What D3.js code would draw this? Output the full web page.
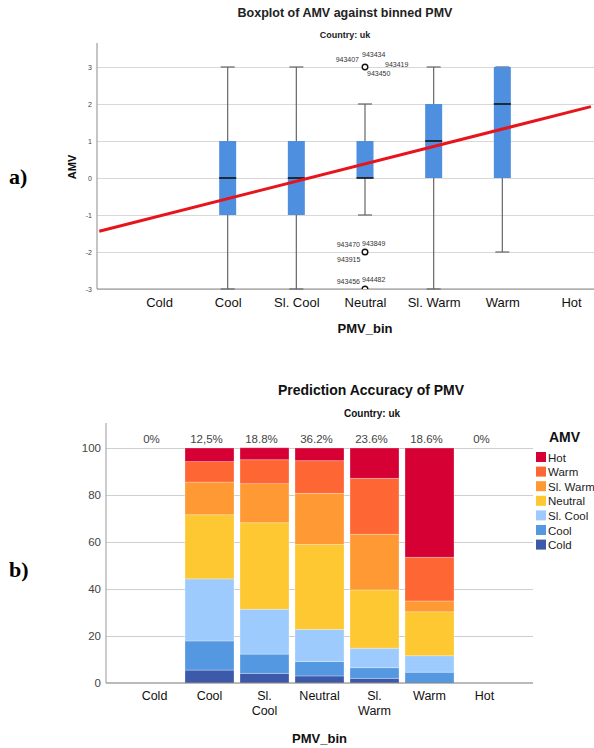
<!DOCTYPE html>
<html>
<head>
<meta charset="utf-8">
<script src="https://cdn.jsdelivr.net/npm/d3@7"></script>
<style>
  body { margin: 0; background: #fff; }
  svg { display: block; font-family: "Liberation Sans", Arial, sans-serif; }
  .domain { display: none; }
</style>
</head>
<body>
<div id="chart"></div>
<script>
// --- data -------------------------------------------------------------
const pmvBins = ["Cold", "Cool", "Sl. Cool", "Neutral", "Sl. Warm", "Warm", "Hot"];
const amvTicks = [-3, -2, -1, 0, 1, 2, 3];

// boxplot stats per PMV bin (null = no data)
const boxLow = [null, -3, -3, -1, -3, -2, null];
const boxQ1 = [null, -1, -1, 0, 0, 0, null];
const boxMedian = [null, 0, 0, 0, 1, 2, null];
const boxQ3 = [null, 1, 1, 1, 2, 3, null];
const boxHigh = [null, 3, 3, 2, 3, 3, null];

// outliers (Neutral bin) with case labels
const outlierBin = ["Neutral", "Neutral", "Neutral"];
const outlierValue = [3, -2, -3];
const outlierLabels = [
    ["943407", "943434", "943419", "943450"],
    ["943470", "943849", "943915"],
    ["943456", "944482"]
];

// fitted line AMV vs PMV (PMV -3..3 at bin centres)
const fitPmv = [-3.87, 3.29];
const fitAmv = [-1.44, 1.93];

// stacked percentages per AMV vote for each PMV bin
const amvLevels = ["Cold", "Cool", "Sl. Cool", "Neutral", "Sl. Warm", "Warm", "Hot"];
const pctCold = [0, 5.5, 4.1, 3.0, 2.0, 0, 0];
const pctCool = [0, 12.4, 8.2, 6.1, 4.5, 4.6, 0];
const pctSlCool = [0, 26.4, 19.1, 13.7, 8.3, 7.0, 0];
const pctNeutral = [0, 27.3, 36.8, 36.2, 24.8, 18.7, 0];
const pctSlWarm = [0, 13.9, 16.6, 21.7, 23.7, 4.6, 0];
const pctWarm = [0, 8.7, 10.2, 13.9, 23.8, 18.6, 0];
const pctHot = [0, 5.8, 5.1, 5.4, 12.9, 46.5, 0];
const accuracyLabels = ["0%", "12,5%", "18.8%", "36.2%", "23.6%", "18.6%", "0%"];
const pctTicks = [0, 20, 40, 60, 80, 100];

const amvColors = ["#3d59a9", "#5598e2", "#9dcbfd", "#fec832", "#fe9933", "#fe6633", "#d60035"];

// --- svg --------------------------------------------------------------
const W = 594, H = 748;
const svg = d3.select("#chart").append("svg")
    .attr("width", W)
    .attr("height", H);

// ===================== a) boxplot ======================================
const topLeft = 97, topRight = 594, topTop = 43, topBottom = 289;

const xTop = d3.scalePoint().domain(pmvBins).range([159, 571]);
const yTop = d3.scaleLinear().domain([-3, 3]).range([289, 67]);
const xPmv = d3.scaleLinear().domain([-3, 3]).range([159, 571]);

svg.append("text")
    .attr("x", 345).attr("y", 17)
    .attr("text-anchor", "middle")
    .attr("font-size", 12.5).attr("font-weight", "bold").attr("fill", "#222")
    .text("Boxplot of AMV against binned PMV");

svg.append("text")
    .attr("x", 345).attr("y", 38)
    .attr("text-anchor", "middle")
    .attr("font-size", 9).attr("font-weight", "bold").attr("fill", "#222")
    .text("Country: uk");

// gridlines
svg.append("g")
    .attr("transform", `translate(${topLeft},0)`)
    .call(d3.axisLeft(yTop).tickValues(amvTicks).tickSize(-(topRight - topLeft)).tickFormat(""))
    .call(g => g.selectAll(".tick line").attr("stroke", "#d8d8d8"));

// y tick labels
svg.append("g")
    .attr("transform", `translate(${topLeft},0)`)
    .call(d3.axisLeft(yTop).tickValues(amvTicks).tickSize(0).tickPadding(5).tickFormat(d => String(d)))
    .call(g => g.selectAll("text").attr("font-size", 7).attr("fill", "#444")
        .attr("font-family", "Liberation Sans, Arial, sans-serif"));

// axis lines
svg.append("line")
    .attr("x1", topLeft).attr("x2", topLeft).attr("y1", topTop).attr("y2", topBottom)
    .attr("stroke", "#8a8a8a");
svg.append("line")
    .attr("x1", topLeft).attr("x2", topRight).attr("y1", topBottom).attr("y2", topBottom)
    .attr("stroke", "#8a8a8a");

// x labels
svg.append("g")
    .attr("transform", `translate(0,${topBottom})`)
    .call(d3.axisBottom(xTop).tickSize(0).tickPadding(9))
    .call(g => g.selectAll("text").attr("font-size", 13).attr("fill", "#111")
        .attr("font-family", "Liberation Sans, Arial, sans-serif"));

svg.append("text")
    .attr("x", xTop("Neutral")).attr("y", 333)
    .attr("text-anchor", "middle")
    .attr("font-size", 13).attr("font-weight", "bold").attr("fill", "#111")
    .text("PMV_bin");

svg.append("text")
    .attr("transform", `translate(76,${yTop(0) - 11}) rotate(-90)`)
    .attr("text-anchor", "middle")
    .attr("font-size", 11).attr("font-weight", "bold").attr("fill", "#111")
    .text("AMV");

svg.append("text")
    .attr("x", 9).attr("y", 184)
    .attr("font-family", "Liberation Serif, Times New Roman, serif")
    .attr("font-size", 22).attr("font-weight", "bold")
    .text("a)");

// boxes
const boxData = pmvBins.map((b, i) => ({
    bin: b, low: boxLow[i], q1: boxQ1[i], med: boxMedian[i], q3: boxQ3[i], high: boxHigh[i]
})).filter(d => d.low !== null);

const boxW = 17, capW = 14;
const boxes = svg.append("g").selectAll("g")
    .data(boxData)
    .join("g")
    .attr("transform", d => `translate(${xTop(d.bin)},0)`);

boxes.append("line")
    .attr("y1", d => yTop(d.low)).attr("y2", d => yTop(d.high))
    .attr("stroke", "#666").attr("stroke-width", 1.2);
boxes.append("line")
    .attr("x1", -capW / 2).attr("x2", capW / 2)
    .attr("y1", d => yTop(d.high)).attr("y2", d => yTop(d.high))
    .attr("stroke", "#666").attr("stroke-width", 1.2);
boxes.append("line")
    .attr("x1", -capW / 2).attr("x2", capW / 2)
    .attr("y1", d => yTop(d.low)).attr("y2", d => yTop(d.low))
    .attr("stroke", "#666").attr("stroke-width", 1.2);
boxes.append("rect")
    .attr("x", -boxW / 2).attr("width", boxW)
    .attr("y", d => yTop(d.q3))
    .attr("height", d => yTop(d.q1) - yTop(d.q3))
    .attr("fill", "#4f8fe0");
boxes.append("line")
    .attr("x1", -boxW / 2).attr("x2", boxW / 2)
    .attr("y1", d => yTop(d.med)).attr("y2", d => yTop(d.med))
    .attr("stroke", "#111").attr("stroke-width", 1.6);

// outliers
svg.append("clipPath").attr("id", "plotClip")
    .append("rect").attr("x", topLeft).attr("y", 0)
    .attr("width", topRight - topLeft).attr("height", topBottom);

const outliers = outlierBin.map((b, i) => ({ bin: b, v: outlierValue[i], labels: outlierLabels[i] }));
svg.append("g").attr("clip-path", "url(#plotClip)")
    .selectAll("circle")
    .data(outliers)
    .join("circle")
    .attr("cx", d => xTop(d.bin)).attr("cy", d => yTop(d.v))
    .attr("r", 2.8)
    .attr("fill", "#fff").attr("stroke", "#111").attr("stroke-width", 1.4);

// label offsets around each outlier point [dx, dy, anchor]
const labelOffsets = [
    [[-6, -5, "end"], [-3, -10, "start"], [20, 0, "start"], [2, 9, "start"]],
    [[-5, -5, "end"], [-3, -6, "start"], [-28, 10, "start"]],
    [[-5, -5, "end"], [-3, -7, "start"]]
];
outliers.forEach((o, i) => {
    svg.append("g").selectAll("text")
        .data(o.labels)
        .join("text")
        .attr("x", (d, j) => xTop(o.bin) + labelOffsets[i][j][0])
        .attr("y", (d, j) => yTop(o.v) + labelOffsets[i][j][1])
        .attr("text-anchor", (d, j) => labelOffsets[i][j][2])
        .attr("font-size", 7).attr("fill", "#333")
        .text(d => d);
});

// fit line
svg.append("line")
    .attr("x1", xPmv(fitPmv[0])).attr("y1", yTop(fitAmv[0]))
    .attr("x2", xPmv(fitPmv[1])).attr("y2", yTop(fitAmv[1]))
    .attr("stroke", "#e8141c").attr("stroke-width", 3);

// ===================== b) stacked bars =================================
const botLeft = 106, botRight = 533, botTop = 423, botBottom = 683;

const xBot = d3.scaleBand().domain(pmvBins).range([botLeft, botRight])
    .paddingInner(0.109).paddingOuter(0.436);
const yBot = d3.scaleLinear().domain([0, 100]).range([botBottom, 448]);

svg.append("text")
    .attr("x", 371).attr("y", 395)
    .attr("text-anchor", "middle")
    .attr("font-size", 14).attr("font-weight", "bold").attr("fill", "#111")
    .text("Prediction Accuracy of PMV");

svg.append("text")
    .attr("x", 372).attr("y", 417)
    .attr("text-anchor", "middle")
    .attr("font-size", 10).attr("font-weight", "bold").attr("fill", "#111")
    .text("Country: uk");

svg.append("text")
    .attr("x", 9).attr("y", 577)
    .attr("font-family", "Liberation Serif, Times New Roman, serif")
    .attr("font-size", 22).attr("font-weight", "bold")
    .text("b)");

// gridlines
svg.append("g")
    .attr("transform", `translate(${botLeft},0)`)
    .call(d3.axisLeft(yBot).tickValues(pctTicks.slice(1)).tickSize(-(botRight - botLeft)).tickFormat(""))
    .call(g => g.selectAll(".tick line").attr("stroke", "#cfcfcf"));

svg.append("g")
    .attr("transform", `translate(${botLeft},0)`)
    .call(d3.axisLeft(yBot).tickValues(pctTicks).tickSize(0).tickPadding(5))
    .call(g => g.selectAll("text").attr("font-size", 11.5).attr("fill", "#444")
        .attr("font-family", "Liberation Sans, Arial, sans-serif"));

svg.append("line")
    .attr("x1", botLeft).attr("x2", botLeft).attr("y1", botTop).attr("y2", botBottom)
    .attr("stroke", "#999");

// stacked bars
const pctSeries = [pctCold, pctCool, pctSlCool, pctNeutral, pctSlWarm, pctWarm, pctHot];
const table = pmvBins.map((b, i) => {
    const row = { bin: b };
    amvLevels.forEach((a, k) => { row[a] = pctSeries[k][i]; });
    return row;
});
const stacked = d3.stack().keys(amvLevels)(table);

svg.append("g").selectAll("g")
    .data(stacked)
    .join("g")
    .attr("fill", (d, k) => amvColors[k])
    .selectAll("rect")
    .data(d => d.filter(p => p[1] - p[0] > 0))
    .join("rect")
    .attr("x", p => xBot(p.data.bin))
    .attr("width", xBot.bandwidth())
    .attr("y", p => yBot(p[1]))
    .attr("height", p => yBot(p[0]) - yBot(p[1]))
    .attr("stroke", "rgba(255,255,255,0.35)").attr("stroke-width", 0.8);

svg.append("line")
    .attr("x1", botLeft).attr("x2", botRight).attr("y1", botBottom).attr("y2", botBottom)
    .attr("stroke", "#777");

// accuracy labels
svg.append("g").selectAll("text")
    .data(accuracyLabels)
    .join("text")
    .attr("x", (d, i) => xBot(pmvBins[i]) + xBot.bandwidth() / 2 - 3)
    .attr("y", 443)
    .attr("text-anchor", "middle")
    .attr("font-size", 11.5).attr("fill", "#444")
    .text(d => d);

// x labels (two lines where needed)
const xLab = svg.append("g")
    .attr("transform", `translate(0,${botBottom})`)
    .call(d3.axisBottom(xBot).tickSize(0).tickPadding(0).tickFormat(""));
xLab.selectAll(".tick").append("text")
    .attr("fill", "#111").attr("font-size", 12.5)
    .attr("font-family", "Liberation Sans, Arial, sans-serif")
    .attr("text-anchor", "middle")
    .each(function (d) {
        const parts = d.startsWith("Sl. ") ? ["Sl.", d.slice(4)] : [d];
        d3.select(this).selectAll("tspan")
            .data(parts)
            .join("tspan")
            .attr("x", 0)
            .attr("y", (p, j) => 17 + j * 15)
            .text(p => p);
    });

svg.append("text")
    .attr("x", xBot("Neutral") + xBot.bandwidth() / 2).attr("y", 743)
    .attr("text-anchor", "middle")
    .attr("font-size", 13).attr("font-weight", "bold").attr("fill", "#111")
    .text("PMV_bin");

// legend
svg.append("text")
    .attr("x", 549).attr("y", 442)
    .attr("font-size", 14).attr("font-weight", "bold").attr("fill", "#111")
    .text("AMV");

const legendOrder = amvLevels.map((a, k) => ({ name: a, color: amvColors[k] })).reverse();
const legend = svg.append("g").selectAll("g")
    .data(legendOrder)
    .join("g")
    .attr("transform", (d, i) => `translate(536,${452 + i * 14.6})`);
legend.append("rect")
    .attr("width", 10).attr("height", 10)
    .attr("fill", d => d.color);
legend.append("text")
    .attr("x", 12).attr("y", 9.5)
    .attr("font-size", 11.5).attr("fill", "#222")
    .text(d => d.name);
</script>
</body>
</html>
